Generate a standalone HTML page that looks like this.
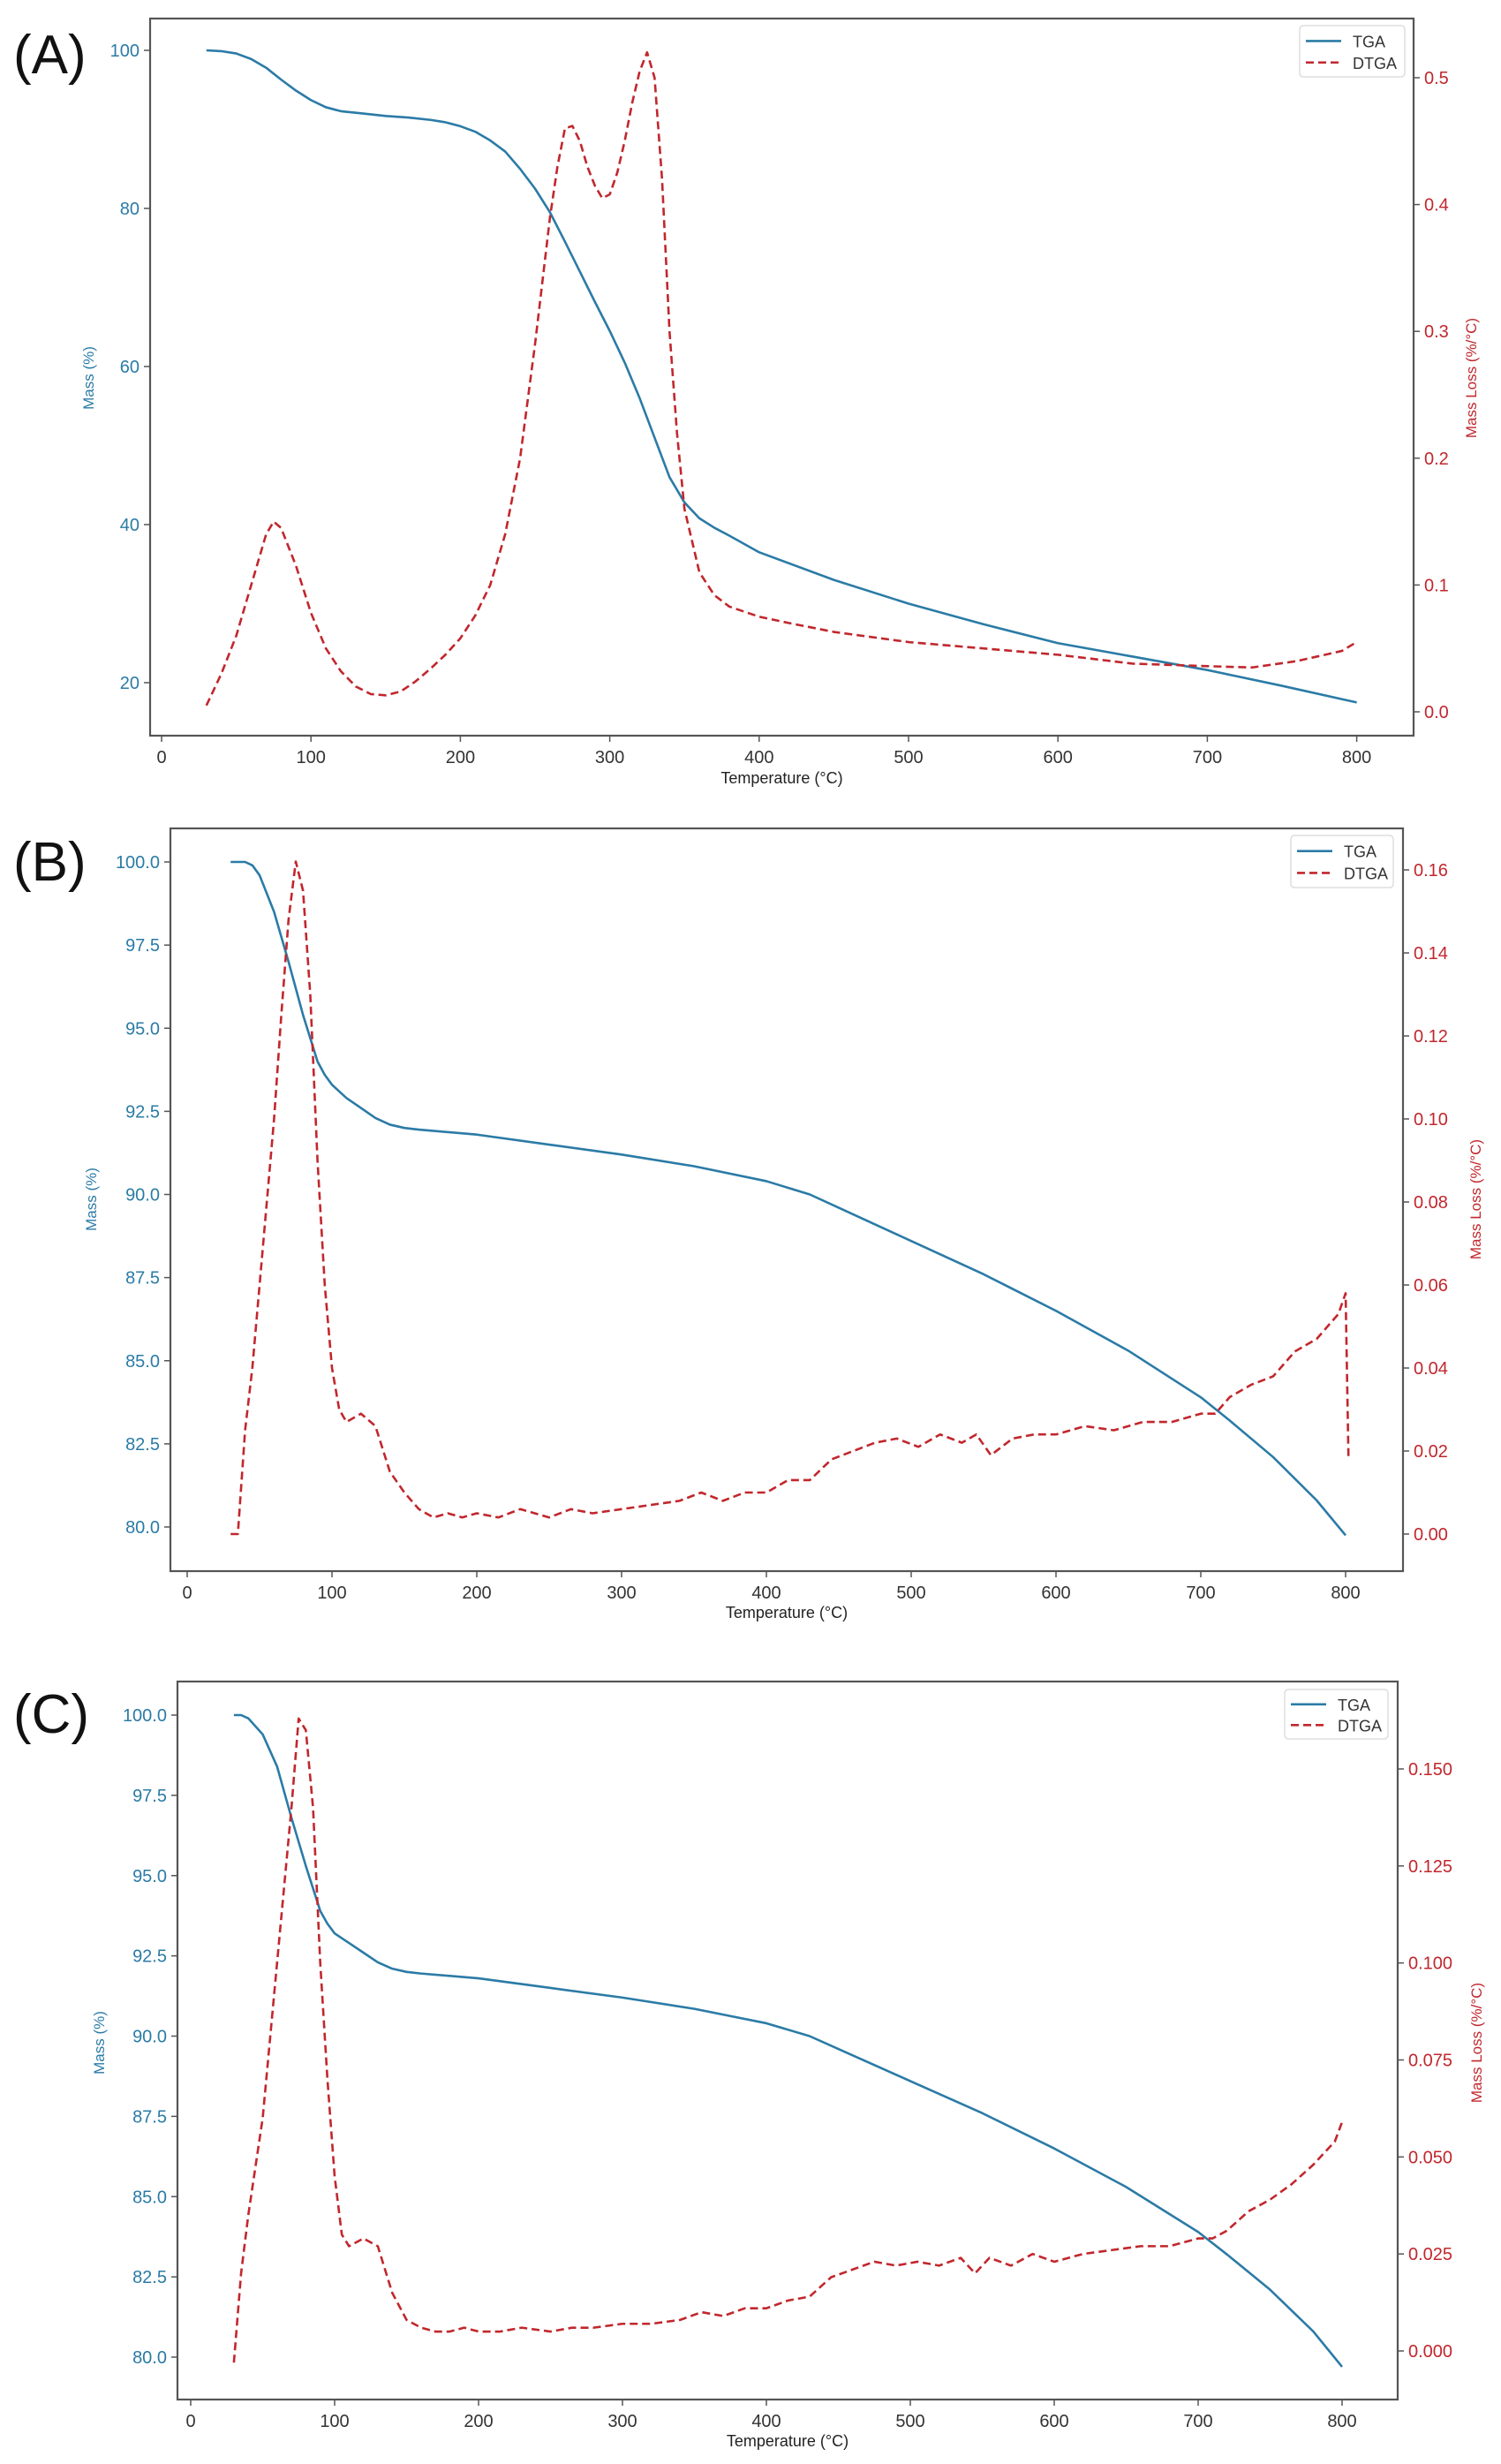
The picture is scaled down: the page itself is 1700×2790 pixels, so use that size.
<!DOCTYPE html>
<html><head><meta charset="utf-8">
<style>
body{margin:0;background:#fff;}
svg{display:block;font-family:"Liberation Sans",sans-serif;}
</style></head>
<body>
<svg id="chart" width="1700" height="2790" viewBox="0 0 1700 2790" xmlns="http://www.w3.org/2000/svg"></svg>
<script>
// ---- Panel A data ----
const aTgaT = [30,40,50,60,70,80,90,100,110,120,135,150,165,180,190,200,210,220,230,240,250,260,270,280,290,300,310,320,330,340,350,360,370,380,400,450,500,550,600,650,700,750,800];
const aTgaM = [100,99.9,99.6,98.9,97.8,96.3,94.9,93.7,92.8,92.3,92.0,91.7,91.5,91.2,90.9,90.4,89.7,88.6,87.2,85.0,82.5,79.5,75.8,72.0,68.2,64.5,60.5,56.0,51.0,46.0,42.8,40.8,39.6,38.6,36.5,33.0,30.0,27.4,25.0,23.3,21.6,19.6,17.5];
const aDtgT = [30,40,50,60,70,75,80,90,100,110,120,130,140,150,160,170,180,190,200,210,220,230,240,250,260,265,270,275,280,285,290,295,300,305,310,315,320,325,330,335,340,345,350,360,370,380,400,420,450,500,550,600,650,700,730,760,790,800];
const aDtgV = [0.005,0.03,0.06,0.1,0.14,0.15,0.145,0.115,0.078,0.05,0.032,0.02,0.014,0.013,0.016,0.024,0.034,0.045,0.058,0.076,0.1,0.14,0.2,0.29,0.39,0.43,0.46,0.462,0.45,0.43,0.415,0.405,0.408,0.425,0.45,0.48,0.505,0.52,0.5,0.42,0.3,0.22,0.16,0.11,0.092,0.083,0.075,0.07,0.063,0.055,0.05,0.045,0.038,0.036,0.035,0.04,0.048,0.055];
// ---- Panel B data ----
const bTgaT = [30,40,45,50,60,70,80,90,95,100,110,120,130,140,150,160,200,250,300,350,400,430,450,500,550,600,650,700,720,750,780,800];
const bTgaM = [100,100,99.9,99.6,98.5,97,95.4,94,93.6,93.3,92.9,92.6,92.3,92.1,92.0,91.95,91.8,91.5,91.2,90.85,90.4,90,89.6,88.6,87.6,86.5,85.3,83.9,83.2,82.1,80.8,79.75];
const bDtgT = [30,35,40,45,50,55,60,65,70,75,80,85,90,95,100,105,110,120,130,140,150,160,170,180,190,200,215,230,250,265,280,300,320,340,355,370,385,400,415,430,445,460,475,490,505,520,535,545,555,570,585,600,620,640,660,680,700,710,720,735,750,765,780,795,800,802];
const bDtgV = [0,0,0.025,0.04,0.06,0.08,0.1,0.125,0.148,0.162,0.155,0.13,0.09,0.06,0.04,0.03,0.027,0.029,0.026,0.015,0.01,0.006,0.004,0.005,0.004,0.005,0.004,0.006,0.004,0.006,0.005,0.006,0.007,0.008,0.010,0.008,0.010,0.010,0.013,0.013,0.018,0.020,0.022,0.023,0.021,0.024,0.022,0.024,0.019,0.023,0.024,0.024,0.026,0.025,0.027,0.027,0.029,0.029,0.033,0.036,0.038,0.044,0.047,0.053,0.058,0.018];
// ---- Panel C data ----
const cTgaT = [30,35,40,50,60,70,80,90,95,100,110,120,130,140,150,160,200,250,300,350,400,430,450,500,550,600,650,700,720,750,780,800];
const cTgaM = [100,100,99.9,99.4,98.4,96.8,95.3,93.9,93.5,93.2,92.9,92.6,92.3,92.1,92.0,91.95,91.8,91.5,91.2,90.85,90.4,90,89.6,88.6,87.6,86.5,85.3,83.9,83.2,82.1,80.8,79.7];
const cDtgT = [30,35,40,50,60,70,75,80,85,90,95,100,105,110,120,130,140,150,160,170,180,190,200,215,230,250,265,280,300,320,340,355,370,385,400,415,430,445,460,475,490,505,520,535,545,555,570,585,600,620,640,660,680,700,710,720,735,750,765,780,795,800];
const cDtgV = [-0.003,0.02,0.035,0.06,0.1,0.14,0.163,0.16,0.14,0.1,0.07,0.045,0.03,0.027,0.029,0.027,0.015,0.008,0.006,0.005,0.005,0.006,0.005,0.005,0.006,0.005,0.006,0.006,0.007,0.007,0.008,0.010,0.009,0.011,0.011,0.013,0.014,0.019,0.021,0.023,0.022,0.023,0.022,0.024,0.020,0.024,0.022,0.025,0.023,0.025,0.026,0.027,0.027,0.029,0.029,0.031,0.036,0.039,0.043,0.048,0.054,0.059];
// ---- Tick labels ----
const xTicks = [0,100,200,300,400,500,600,700,800];
const aLeftTicks = [20,40,60,80,100];
const aRightTicks = [0.0,0.1,0.2,0.3,0.4,0.5];
const bLeftTicks = [80,82.5,85,87.5,90,92.5,95,97.5,100];
const bRightTicks = [0,0.02,0.04,0.06,0.08,0.10,0.12,0.14,0.16];
const cLeftTicks = [80,82.5,85,87.5,90,92.5,95,97.5,100];
const cRightTicks = [0,0.025,0.05,0.075,0.1,0.125,0.15];

const NS="http://www.w3.org/2000/svg";
const svg=document.getElementById('chart');
const BLUE="#2b7ba6", RED="#c1272d";
function mk(tag,attrs,parent){const e=document.createElementNS(NS,tag);for(const k in attrs)e.setAttribute(k,attrs[k]);(parent||svg).appendChild(e);return e;}

function panel(cfg){
  const g=mk('g',{});
  
  
  const xs=t=>cfg.x0+t*cfg.xk;
  const yl=v=>cfg.ly1+(v-cfg.lv1)*(cfg.ly2-cfg.ly1)/(cfg.lv2-cfg.lv1);
  const yr=v=>cfg.ry1+(v-cfg.rv1)*(cfg.ry2-cfg.ry1)/(cfg.rv2-cfg.rv1);
  const lab=mk('text',{x:cfg.labX,y:cfg.labY,'font-size':62,fill:'#111'},g);
  lab.textContent='('+cfg.id.toUpperCase()+')';
  
  
  xTicks.forEach(t=>{
    mk('line',{x1:xs(t),x2:xs(t),y1:cfg.B,y2:cfg.B+7,stroke:'#555','stroke-width':1.5},g);
    const tx=mk('text',{x:xs(t),y:cfg.B+31,'font-size':20,fill:'#333','text-anchor':'middle'},g);
    tx.textContent=t;
    
    
  });
  cfg.lt.forEach(v=>{
    mk('line',{x1:cfg.L-7,x2:cfg.L,y1:yl(v),y2:yl(v),stroke:'#555','stroke-width':1.5},g);
    const tx=mk('text',{x:cfg.L-12,y:yl(v)+7,'font-size':20,fill:BLUE,'text-anchor':'end'},g);
    tx.textContent=cfg.lfmt(v);
    
    
  });
  cfg.rt.forEach(v=>{
    mk('line',{x1:cfg.R,x2:cfg.R+7,y1:yr(v),y2:yr(v),stroke:'#555','stroke-width':1.5},g);
    const tx=mk('text',{x:cfg.R+12,y:yr(v)+7,'font-size':20,fill:RED},g);
    tx.textContent=cfg.rfmt(v);
    
    
  });
  const xl=mk('text',{x:(cfg.L+cfg.R)/2,y:cfg.xlY,'font-size':18,fill:'#222','text-anchor':'middle'},g);
  xl.textContent='Temperature (°C)';
  
  
  const ylab=mk('text',{x:0,y:0,'font-size':17,fill:BLUE,'text-anchor':'middle',transform:`translate(${cfg.mlX},${cfg.mlY}) rotate(-90)`},g);
  ylab.textContent='Mass (%)';
  
  
  const yr2=mk('text',{x:0,y:0,'font-size':17,fill:RED,'text-anchor':'middle',transform:`translate(${cfg.rlX},${cfg.mlY}) rotate(-90)`},g);
  yr2.textContent='Mass Loss (%/°C)';
  
  
  const p1=mk('polyline',{points:cfg.tT.map((t,i)=>xs(t)+','+yl(cfg.tM[i])).join(' '),fill:'none',stroke:BLUE,'stroke-width':2.6,'stroke-linejoin':'round'},g);
  
  
  const p2=mk('polyline',{points:cfg.dT.map((t,i)=>xs(t)+','+yr(cfg.dV[i])).join(' '),fill:'none',stroke:RED,'stroke-width':2.6,'stroke-dasharray':'9,5','stroke-linejoin':'round'},g);
  
  
  const fr=mk('rect',{x:cfg.L,y:cfg.T,width:cfg.R-cfg.L,height:cfg.B-cfg.T,fill:'none',stroke:'#555','stroke-width':2.2},g);
  
  
  const lg=mk('g',{},g);
  
  
  const [lx,ly,lw,lh]=cfg.leg;
  mk('rect',{x:lx,y:ly,width:lw,height:lh,rx:4,fill:'#fff',stroke:'#ddd','stroke-width':1.5},lg);
  mk('line',{x1:lx+7,x2:lx+47,y1:ly+lh*0.3,y2:ly+lh*0.3,stroke:BLUE,'stroke-width':2.6},lg);
  mk('line',{x1:lx+7,x2:lx+47,y1:ly+lh*0.72,y2:ly+lh*0.72,stroke:RED,'stroke-width':2.6,'stroke-dasharray':'9,5'},lg);
  const t1=mk('text',{x:lx+60,y:ly+lh*0.3+7,'font-size':18,fill:'#333'},lg);t1.textContent='TGA';
  
  
  const t2=mk('text',{x:lx+60,y:ly+lh*0.72+7,'font-size':18,fill:'#333'},lg);t2.textContent='DTGA';
  
  
}
const f1=v=>String(v), f1d=v=>v.toFixed(1), f2=v=>v.toFixed(2), f3=v=>v.toFixed(3);
panel({id:'a',L:170,R:1601,T:21,B:833,x0:183,xk:1.692,lv1:100,ly1:57,lv2:20,ly2:773,rv1:0,ry1:806,rv2:0.5,ry2:88,
  lt:aLeftTicks,rt:aRightTicks,lfmt:f1,rfmt:f1d,tT:aTgaT,tM:aTgaM,dT:aDtgT,dV:aDtgV,
  labX:15,labY:83,xlY:887,mlX:106,rlX:1672,mlY:428,leg:[1472,29,119,58]});
panel({id:'b',L:193,R:1589,T:938,B:1779,x0:212,xk:1.64,lv1:100,ly1:976,lv2:80,ly2:1729,rv1:0,ry1:1737,rv2:0.16,ry2:985,
  lt:bLeftTicks,rt:bRightTicks,lfmt:f1d,rfmt:f2,tT:bTgaT,tM:bTgaM,dT:bDtgT,dV:bDtgV,
  labX:15,labY:997,xlY:1832,mlX:109,rlX:1677,mlY:1358,leg:[1462,946,116,59]});
panel({id:'c',L:201,R:1583,T:1904,B:2717,x0:216,xk:1.63,lv1:100,ly1:1942,lv2:80,ly2:2669,rv1:0,ry1:2662,rv2:0.15,ry2:2003,
  lt:cLeftTicks,rt:cRightTicks,lfmt:f1d,rfmt:f3,tT:cTgaT,tM:cTgaM,dT:cDtgT,dV:cDtgV,
  labX:15,labY:1962,xlY:2770,mlX:118,rlX:1678,mlY:2313,leg:[1455,1913,117,56]});
</script>
</body></html>
